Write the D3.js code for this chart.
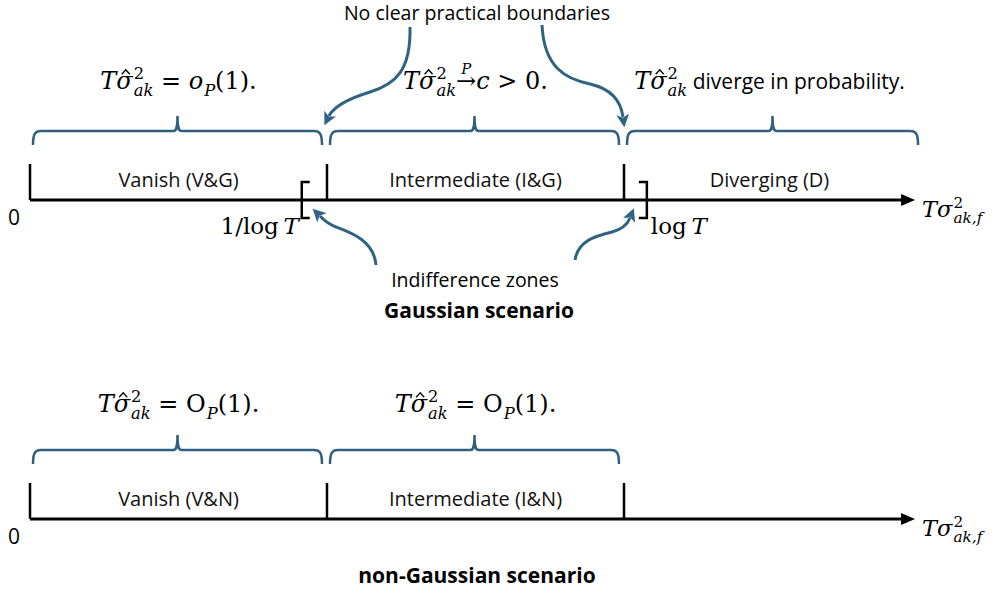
<!DOCTYPE html>
<html>
<head>
<meta charset="utf-8">
<script src="https://cdn.jsdelivr.net/npm/d3@7"></script>
<style>
  body { margin: 0; background: #fff; }
  .sans { font-family: "Open Sans", "Noto Sans", sans-serif; }
  .math { font-family: "DejaVu Serif", "Liberation Serif", serif; }
</style>
</head>
<body>
<div id="chart"></div>
<script>
var w = 995;
var h = 594;

// axis positions (abstract units: 0 .. 1 .. 2 .. end of arrow)
var boundaries = [0, 1, 2];
var axisEnd = 2.98;
var zoneEdges = [0.915, 2.077];
var zoneLabels = ["1/log\u2009", "log\u2009"];

var gaussRegions = ["Vanish (V&G)", "Intermediate (I&G)", "Diverging (D)"];
var nonGaussRegions = ["Vanish (V&N)", "Intermediate (I&N)"];

// math tokens: i = italic, hat, sup, sub, over, sans
var sigHat = {t: "\u03c3", i: true, hat: true, sup: "2", sub: "ak"};
var gaussStats = [
	[{t: "T", i: true}, sigHat, {t: " = "}, {t: "o", i: true, sub: "P"}, {t: "(1)."}],
	[{t: "T", i: true}, sigHat, {t: "\u2192", over: "P"}, {t: "c", i: true}, {t: " > 0."}],
	[{t: "T", i: true}, sigHat, {t: " diverge in probability.", sans: true}]
];
var nonGaussStats = [
	[{t: "T", i: true}, sigHat, {t: " = "}, {t: "O", sub: "P"}, {t: "(1)."}],
	[{t: "T", i: true}, sigHat, {t: " = "}, {t: "O", sub: "P"}, {t: "(1)."}]
];
var axisTitle = [{t: "T", i: true}, {t: "\u03c3", i: true, sup: "2", sub: "ak,f"}];

var braceColor = "#31607f";
var arrowColor = "#2f6383";

var xScale = d3.scaleLinear()
				.domain([0, 2])
				.range([30, 624]);

var svg = d3.select("#chart")
				.append("svg")
				.attr("width", w)
				.attr("height", h);

svg.append("defs").append("marker")
	.attr("id", "head")
	.attr("viewBox", "0 0 10 10")
	.attr("refX", 2)
	.attr("refY", 5)
	.attr("markerUnits", "userSpaceOnUse")
	.attr("markerWidth", 13)
	.attr("markerHeight", 13)
	.attr("orient", "auto")
	.append("path")
	.attr("d", "M0,0 L10,5 L0,10 L2.5,5 Z")
	.attr("fill", arrowColor);

function drawMath(g, tokens, x, y, size, anchor) {
	var grp = g.append("g");
	var cur = 0;
	tokens.forEach(function(tk) {
		var t = grp.append("text")
			.attr("class", tk.sans ? "sans" : "math")
			.attr("x", cur)
			.attr("y", 0)
			.style("font-size", (tk.sans ? 21 : size) + "px")
			.style("font-style", tk.i ? "italic" : "normal")
			.attr("xml:space", "preserve")
			.text(tk.t);
		var tw = t.node().getComputedTextLength();
		if (tk.hat) {
			var hx = cur + tw * 0.58;
			var hy = -size * 0.74;
			grp.append("path")
				.attr("d", "M" + (hx - 4) + "," + (hy + 3) + " L" + hx + "," + (hy - 1.5) + " L" + (hx + 4) + "," + (hy + 3))
				.attr("fill", "none")
				.attr("stroke", "#000")
				.attr("stroke-width", 1.3);
		}
		if (tk.over) {
			grp.append("text")
				.attr("class", "math")
				.attr("x", cur + tw / 2)
				.attr("y", -size * 0.62)
				.attr("text-anchor", "middle")
				.style("font-size", (size * 0.62) + "px")
				.style("font-style", "italic")
				.text(tk.over);
		}
		cur += tw;
		var extra = 0;
		if (tk.sup) {
			var s = grp.append("text")
				.attr("class", "math")
				.attr("x", cur + 1)
				.attr("y", -size * 0.42)
				.style("font-size", (size * 0.68) + "px")
				.text(tk.sup);
			extra = Math.max(extra, s.node().getComputedTextLength() + 1);
		}
		if (tk.sub) {
			var b = grp.append("text")
				.attr("class", "math")
				.attr("x", cur + 1)
				.attr("y", size * 0.28)
				.style("font-size", (size * 0.68) + "px")
				.style("font-style", "italic")
				.text(tk.sub);
			extra = Math.max(extra, b.node().getComputedTextLength() + 1);
		}
		cur += extra;
	});
	var dx = anchor === "middle" ? x - cur / 2 : x;
	grp.attr("transform", "translate(" + dx + "," + y + ")");
}

function bracePath(xa, xb, yt) {
	var mid = (xa + xb) / 2;
	return "M" + xa + "," + (yt + 14) +
		" C" + xa + "," + (yt + 3) + " " + (xa + 2) + "," + yt + " " + (xa + 8) + "," + yt +
		" L" + (mid - 4) + "," + yt +
		" C" + (mid - 1) + "," + yt + " " + mid + "," + (yt - 3) + " " + mid + "," + (yt - 15) +
		" C" + mid + "," + (yt - 3) + " " + (mid + 1) + "," + yt + " " + (mid + 4) + "," + yt +
		" L" + (xb - 8) + "," + yt +
		" C" + (xb - 2) + "," + yt + " " + xb + "," + (yt + 3) + " " + xb + "," + (yt + 14);
}

function drawPanel(axisY, regions, stats, mathY) {
	var g = svg.append("g").attr("transform", "translate(0," + axisY + ")");

	var spans = regions.map(function(d, i) {
		var a = boundaries[i];
		var b = i + 1 < boundaries.length ? boundaries[i + 1] : axisEnd;
		return {name: d, a: a, b: b, last: i + 1 >= boundaries.length};
	});

	// main axis
	g.append("line")
		.attr("x1", xScale(0))
		.attr("x2", xScale(axisEnd) - 10)
		.attr("y1", 0)
		.attr("y2", 0)
		.attr("stroke", "#000")
		.attr("stroke-width", 3);
	g.append("path")
		.attr("d", "M" + (xScale(axisEnd) - 14) + ",-6 L" + xScale(axisEnd) + ",0 L" + (xScale(axisEnd) - 14) + ",6 Z")
		.attr("fill", "#000");

	// boundary ticks
	g.selectAll(".tick")
		.data(boundaries)
		.enter()
		.append("line")
		.attr("x1", function(d) { return xScale(d); })
		.attr("x2", function(d) { return xScale(d); })
		.attr("y1", -36)
		.attr("y2", 0)
		.attr("stroke", "#000")
		.attr("stroke-width", 2.5);

	// region names
	g.selectAll(".region")
		.data(spans)
		.enter()
		.append("text")
		.attr("class", "sans")
		.attr("x", function(d) { return (xScale(d.a) + xScale(d.b)) / 2; })
		.attr("y", -13)
		.attr("text-anchor", "middle")
		.style("font-size", "20px")
		.style("fill", "#111")
		.text(function(d) { return d.name; });

	// braces
	g.selectAll(".brace")
		.data(spans)
		.enter()
		.append("path")
		.attr("d", function(d) {
			return bracePath(xScale(d.a) + 3, d.last ? xScale(d.b) + 3 : xScale(d.b) - 5, -69);
		})
		.attr("fill", "none")
		.attr("stroke", braceColor)
		.attr("stroke-width", 2.5);

	// statements above braces
	spans.forEach(function(d, i) {
		drawMath(g, stats[i], (xScale(d.a) + xScale(d.b)) / 2, mathY, 24, "middle");
	});

	g.append("text")
		.attr("class", "sans")
		.attr("x", 14)
		.attr("y", 25)
		.attr("text-anchor", "middle")
		.style("font-size", "21px")
		.text("0");

	drawMath(g, axisTitle, xScale(axisEnd) + 7, 17, 22.5, "start");
	return g;
}

var topPanel = drawPanel(200, gaussRegions, gaussStats, -111);
var bottomPanel = drawPanel(519, nonGaussRegions, nonGaussStats, -107);

// indifference zone brackets
topPanel.selectAll(".zone")
	.data(zoneEdges)
	.enter()
	.append("path")
	.attr("d", function(d, i) {
		var x0 = xScale(d);
		var arm = i === 0 ? 8 : -8;
		return "M" + (x0 + arm) + ",-18 L" + x0 + ",-18 L" + x0 + ",18 L" + (x0 + arm) + ",18";
	})
	.attr("fill", "none")
	.attr("stroke", "#000")
	.attr("stroke-width", 2.5);

topPanel.selectAll(".zonelabel")
	.data(zoneLabels)
	.enter()
	.append("text")
	.attr("class", "math")
	.attr("x", function(d, i) { return i === 0 ? xScale(zoneEdges[0]) - 3 : xScale(zoneEdges[1]) + 4; })
	.attr("y", 34)
	.attr("text-anchor", function(d, i) { return i === 0 ? "end" : "start"; })
	.style("font-size", "23px")
	.text(function(d) { return d; })
	.append("tspan")
	.style("font-style", "italic")
	.text("T");

// annotation arrows
var arrows = [
	"M410,27 C411,70 396,84 370,92 C344,100 333,108 329,116",
	"M542,25 C544,68 566,79 590,84 C612,89 621,102 623,117",
	"M376,265 C374,241 352,233 336,227 C326,223 322,218 320,216",
	"M575,260 C578,241 595,236 612,232 C623,229 628,223 630,218"
];
svg.selectAll(".annot")
	.data(arrows)
	.enter()
	.append("path")
	.attr("d", function(d) { return d; })
	.attr("fill", "none")
	.attr("stroke", arrowColor)
	.attr("stroke-width", 3)
	.attr("marker-end", "url(#head)");

svg.append("text")
	.attr("class", "sans")
	.attr("x", 477)
	.attr("y", 20)
	.attr("text-anchor", "middle")
	.style("font-size", "19.5px")
	.text("No clear practical boundaries");

svg.append("text")
	.attr("class", "sans")
	.attr("x", 475)
	.attr("y", 287)
	.attr("text-anchor", "middle")
	.style("font-size", "19.5px")
	.text("Indifference zones");

svg.append("text")
	.attr("class", "sans")
	.attr("x", 479)
	.attr("y", 318)
	.attr("text-anchor", "middle")
	.style("font-size", "21px")
	.style("font-weight", "bold")
	.text("Gaussian scenario");

svg.append("text")
	.attr("class", "sans")
	.attr("x", 477)
	.attr("y", 583)
	.attr("text-anchor", "middle")
	.style("font-size", "21px")
	.style("font-weight", "bold")
	.text("non-Gaussian scenario");
</script>
</body>
</html>
